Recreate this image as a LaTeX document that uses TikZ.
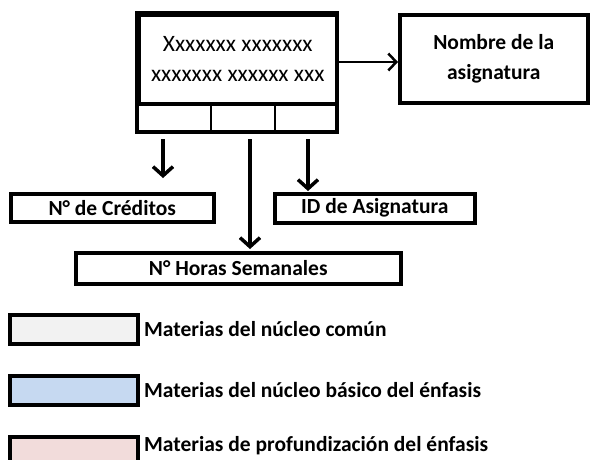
\documentclass[tikz,border=0pt]{standalone}
\usepackage{fontspec}
\setmainfont{Carlito}
\usetikzlibrary{arrows.meta}
\definecolor{lgray}{HTML}{F2F2F2}
\definecolor{lblue}{HTML}{C6D9F1}
\definecolor{lpink}{HTML}{F2DCDB}
\begin{document}
\begin{tikzpicture}[x=1pt,y=-1pt,
  boxx/.style={draw=black,line width=3.5pt,inner sep=0pt,anchor=north west,align=center},
  cell/.style={draw=black,line width=1.8pt,inner sep=0pt,anchor=north west},
  lbl/.style={font=\fontsize{21.5}{30}\selectfont\bfseries},
  arr/.style={line width=3.5pt,-{Straight Barb[length=9pt,width=20pt,line width=3.5pt]}},
  legend/.style={draw=black,line width=4pt,inner sep=0pt,anchor=north west,minimum width=128pt,minimum height=29pt}]
\useasboundingbox (0,0) rectangle (592,459);
% main box
\node[cell,minimum width=73pt,minimum height=28pt] (c1) at (137,102) {};
\node[cell,minimum width=64pt,minimum height=28pt] (c2) at (210,102) {};
\node[cell,minimum width=61pt,minimum height=28pt] (c3) at (274,102) {};
\node[boxx,minimum width=198pt,minimum height=89pt,font=\fontsize{23.5}{30}\selectfont] (main) at (137,13) {Xxxxxxx xxxxxxx\\xxxxxxx xxxxxx xxx};
\draw[line width=3.5pt] (main.north west) rectangle (c3.south east);
% name box
\node[boxx,minimum width=188pt,minimum height=88pt,font=\fontsize{21.5}{30}\selectfont\bfseries] (name) at (398,13) {Nombre de la\\asignatura};
\draw[line width=2.5pt,-{Straight Barb[length=8pt,width=17pt,line width=2.5pt]}] (335,62) -- (name.west |- 0,62);
% target boxes
\node[boxx,minimum width=203pt,minimum height=28pt,lbl] (cred) at (9,192) {N° de Créditos};
\node[boxx,minimum width=200pt,minimum height=29pt,lbl] (idas) at (273,192) {ID de Asignatura};
\node[boxx,minimum width=325pt,minimum height=31pt,lbl] (horas) at (74,251) {N° Horas Semanales};
% arrows
\coordinate (a1) at (163,139);
\coordinate (a2) at (250,139);
\coordinate (a3) at (308,139);
\draw[arr] (a1) -- ([yshift=14pt]a1 |- cred.north);
\draw[arr] (a2) -- ([yshift=2pt]a2 |- horas.north);
\draw[arr] (a3) -- ([yshift=1pt]a3 |- idas.north);
% legend
\node[legend,fill=lgray] (l1) at (8,313) {};
\node[legend,fill=lblue] (l2) at (8,374) {};
\node[legend,fill=lpink,minimum height=40pt] (l3) at (8,435) {};
\node[lbl,anchor=west,inner xsep=0pt] at ([xshift=4pt]l1.east) {Materias del núcleo común};
\node[lbl,anchor=west,inner xsep=0pt] at ([xshift=4pt]l2.east) {Materias del núcleo básico del énfasis};
\node[lbl,anchor=west,inner xsep=0pt] at ([xshift=4pt]l3.east |- 0,446) {Materias de profundización del énfasis};
\end{tikzpicture}
\end{document}
